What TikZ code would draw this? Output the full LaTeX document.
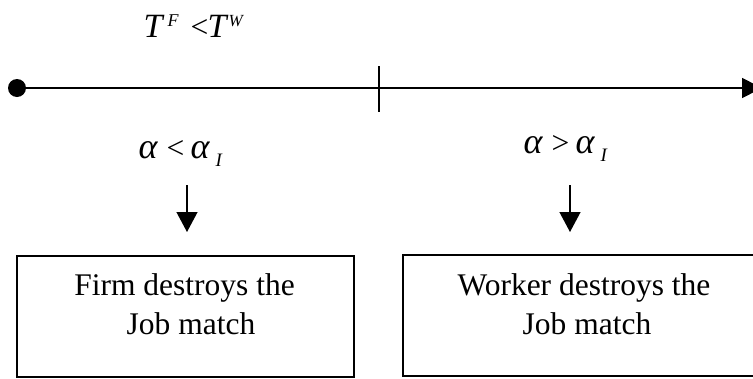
\documentclass[tikz,border=0pt]{standalone}
\usepackage{fontspec}
\setmainfont{Liberation Serif}
\usetikzlibrary{arrows.meta}
% place #4 at horizontal offset #1, vertical offset #2, font size #3
\newcommand\putat[4]{\makebox[0pt][l]{\hspace*{#1}\raisebox{#2}{\fontsize{#3}{#3}\selectfont #4}}}
\begin{document}
\begin{tikzpicture}[x=1pt,y=-1pt,
  every node/.style={inner sep=0pt,font=\fontsize{31.5}{38}\selectfont},
  axisline/.style={line width=1.6pt,-{Triangle[length=20pt,width=20pt]}},
  tickline/.style={line width=1.4pt},
  varrow/.style={line width=1.3pt,-{Triangle[length=20pt,width=21pt]}},
  boxnode/.style={draw,line width=1.4pt,rectangle}]
\useasboundingbox (0,0) rectangle (753,378);
\clip (0,0) rectangle (753,378);
% time axis
\node[circle,fill=black,minimum size=18pt] (start) at (17,88) {};
\coordinate (axend) at (762,88);
\draw[axisline] (start.center) -- (axend);
\coordinate (ticktop) at (379,66);
\coordinate (tickbot) at (379,112);
\draw[tickline] (ticktop) -- (tickbot);
% condition on top
\node[anchor=base west] (tcond) at (143,37) {%
  \putat{0pt}{0pt}{34}{\itshape T}%
  \putat{24pt}{11pt}{18}{\itshape F}%
  \putat{47pt}{0pt}{31.5}{<}%
  \putat{64pt}{0pt}{34}{\itshape T}%
  \putat{85pt}{11pt}{17}{\itshape W}};
% alpha labels
\node[anchor=base west] (acondl) at (138,158) {%
  \putat{0pt}{0pt}{36}{\itshape α}%
  \putat{28pt}{0pt}{31.5}{<}%
  \putat{52pt}{0pt}{36}{\itshape α}%
  \putat{77pt}{-8pt}{19}{\itshape I}};
\node[anchor=base west] (acondr) at (523,153) {%
  \putat{0pt}{0pt}{36}{\itshape α}%
  \putat{28pt}{0pt}{31.5}{>}%
  \putat{52pt}{0pt}{36}{\itshape α}%
  \putat{77pt}{-8pt}{19}{\itshape I}};
% vertical arrows
\coordinate (la0) at (187,185);
\coordinate (la1) at (187,232);
\draw[varrow] (la0) -- (la1);
\coordinate (ra0) at (570,185);
\coordinate (ra1) at (570,232);
\draw[varrow] (ra0) -- (ra1);
% boxes
\node[boxnode,minimum width=337pt,minimum height=121pt] (fbox) at (185.5,316.5) {};
\node[boxnode,minimum width=364pt,minimum height=121pt] (wbox) at (585,315.5) {};
\node[anchor=base] (ft1) at (184.5,295) {Firm destroys the};
\node[anchor=base] (ft2) at (191,334) {Job match};
\node[anchor=base] (wt1) at (584,295) {Worker destroys the};
\node[anchor=base] (wt2) at (587,334) {Job match};
\end{tikzpicture}
\end{document}
